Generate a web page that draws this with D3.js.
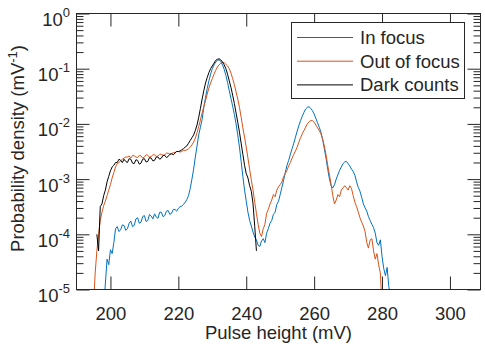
<!DOCTYPE html>
<html>
<head>
<meta charset="utf-8">
<script src="https://cdn.jsdelivr.net/npm/d3@7"></script>
<style>
  body { margin: 0; background: #fff; }
  text { font-family: "Liberation Sans", Arial, Helvetica, sans-serif; fill: #262626; }
</style>
</head>
<body>
<div id="chart"></div>
<script>
// pulse height bins (mV), 0.5 mV apart
const pulseHeight = [
  195, 195.5, 196, 196.5, 197, 197.5,
  198, 198.5, 199, 199.5, 200, 200.5, 201, 201.5,
  202, 202.5, 203, 203.5, 204, 204.5, 205, 205.5,
  206, 206.5, 207, 207.5, 208, 208.5, 209, 209.5,
  210, 210.5, 211, 211.5, 212, 212.5, 213, 213.5,
  214, 214.5, 215, 215.5, 216, 216.5, 217, 217.5,
  218, 218.5, 219, 219.5, 220, 220.5, 221, 221.5,
  222, 222.5, 223, 223.5, 224, 224.5, 225, 225.5,
  226, 226.5, 227, 227.5, 228, 228.5, 229, 229.5,
  230, 230.5, 231, 231.5, 232, 232.5, 233, 233.5,
  234, 234.5, 235, 235.5, 236, 236.5, 237, 237.5,
  238, 238.5, 239, 239.5, 240, 240.5, 241, 241.5,
  242, 242.5, 243, 243.5, 244, 244.5, 245, 245.5,
  246, 246.5, 247, 247.5, 248, 248.5, 249, 249.5,
  250, 250.5, 251, 251.5, 252, 252.5, 253, 253.5,
  254, 254.5, 255, 255.5, 256, 256.5, 257, 257.5,
  258, 258.5, 259, 259.5, 260, 260.5, 261, 261.5,
  262, 262.5, 263, 263.5, 264, 264.5, 265, 265.5,
  266, 266.5, 267, 267.5, 268, 268.5, 269, 269.5,
  270, 270.5, 271, 271.5, 272, 272.5, 273, 273.5,
  274, 274.5, 275, 275.5, 276, 276.5, 277, 277.5,
  278, 278.5, 279, 279.5, 280, 280.5, 281, 281.5,
  282, 282.5, 283
];

// log10 of probability density (mV^-1)
const inFocus = [
  null, null, null, null, null, null,
  -5.3, -4.9, -4.45, -4.55, -4.28, -4.35, -4.15, -3.9,
  -3.86, -3.95, -3.92, -3.83, -3.84, -3.93, -3.9, -3.8,
  -3.76, -3.86, -3.84, -3.72, -3.7, -3.8, -3.78, -3.68,
  -3.66, -3.77, -3.75, -3.64, -3.67, -3.72, -3.63, -3.69,
  -3.71, -3.6, -3.6, -3.68, -3.66, -3.58, -3.57, -3.64,
  -3.62, -3.55, -3.55, -3.58, -3.53, -3.5, -3.49, -3.46,
  -3.42, -3.37, -3.3, -3.17, -3.0, -2.82, -2.6, -2.4,
  -2.2, -2.06, -1.92, -1.7, -1.52, -1.36, -1.22, -1.1,
  -1.0, -0.93, -0.88, -0.85, -0.84, -0.87, -0.93, -1.01,
  -1.12, -1.25, -1.4, -1.54, -1.68, -1.83, -2.0, -2.2,
  -2.42, -2.68, -2.95, -3.2, -3.4, -3.6, -3.75, -3.85,
  -3.96, -4.05, -4.1, -4.2, -4.22, -4.12, -4.08, -4.15,
  -3.98, -3.9, -3.8, -3.75, -3.64, -3.6, -3.46, -3.4,
  -3.28, -3.15, -3.02, -2.88, -2.75, -2.66, -2.55, -2.45,
  -2.35, -2.24, -2.13, -2.03, -1.94, -1.86, -1.79, -1.73,
  -1.7, -1.69, -1.72, -1.76, -1.82, -1.9, -1.98, -2.06,
  -2.15, -2.28, -2.45, -2.62, -2.82, -3.0, -3.12, -3.16,
  -3.1, -3.0, -2.92, -2.84, -2.78, -2.72, -2.69, -2.68,
  -2.72, -2.76, -2.82, -2.86, -2.93, -3.05, -3.15, -3.22,
  -3.33, -3.45, -3.52, -3.58, -3.68, -3.75, -3.82, -3.88,
  -3.98, -4.15, -4.2, -4.1, -4.4, -4.62, -4.75, -4.6,
  -4.95, -5.1, -5.3
];

const outOfFocus = [
  -5.3, -4.7, -4.3, -4.0, -3.75, -3.6,
  -3.48, -3.4, -3.3, -3.2, -3.1, -2.98, -2.88, -2.78,
  -2.72, -2.7, -2.67, -2.64, -2.62, -2.6, -2.6, -2.58,
  -2.62, -2.57, -2.58, -2.6, -2.61, -2.57, -2.58, -2.62,
  -2.6, -2.56, -2.57, -2.6, -2.59, -2.56, -2.56, -2.59,
  -2.58, -2.55, -2.55, -2.57, -2.56, -2.53, -2.53, -2.55,
  -2.54, -2.52, -2.52, -2.5, -2.5, -2.51, -2.5, -2.48,
  -2.48, -2.47, -2.45, -2.42, -2.38, -2.33, -2.26, -2.16,
  -2.05, -1.93, -1.8, -1.69, -1.58, -1.46, -1.35, -1.26,
  -1.18, -1.1, -1.03, -0.97, -0.93, -0.9, -0.88, -0.89,
  -0.92, -0.95, -1.0, -1.08, -1.18, -1.29, -1.42, -1.55,
  -1.7, -1.88, -2.07, -2.24, -2.42, -2.62, -2.82, -3.02,
  -3.2, -3.42, -3.62, -3.82, -3.98, -4.04, -3.9, -3.82,
  -3.62, -3.55, -3.45, -3.38, -3.28, -3.32, -3.2, -3.14,
  -3.1, -3.05, -2.96, -2.9, -2.84, -2.76, -2.7, -2.62,
  -2.55, -2.49, -2.42, -2.33, -2.25, -2.18, -2.12, -2.06,
  -2.0, -1.96, -1.94, -1.94, -1.97, -2.02, -2.07, -2.12,
  -2.18, -2.28, -2.4, -2.56, -2.75, -2.92, -3.1, -3.3,
  -3.45, -3.38, -3.28, -3.32, -3.2, -3.16, -3.12, -3.15,
  -3.2, -3.12, -3.17, -3.3, -3.42, -3.5, -3.6, -3.7,
  -3.78, -3.85, -3.95, -4.15, -4.25, -4.1, -4.08, -4.3,
  -4.45, -4.35, -4.55, -4.7, -5.3, null, null, null,
  null, null, null
];

const darkCounts = [
  null, null, -4.0, -4.3, -3.5, -3.45,
  -3.3, -3.2, -3.05, -2.95, -2.85, -2.78, -2.75, -2.7,
  -2.7, -2.64, -2.66, -2.7, -2.64, -2.68, -2.7, -2.63,
  -2.64, -2.71, -2.72, -2.65, -2.66, -2.73, -2.71, -2.64,
  -2.63, -2.69, -2.68, -2.61, -2.62, -2.67, -2.66, -2.6,
  -2.6, -2.64, -2.62, -2.57, -2.57, -2.61, -2.59, -2.55,
  -2.54, -2.56, -2.53, -2.5, -2.5, -2.49, -2.47, -2.45,
  -2.42, -2.4, -2.35, -2.3, -2.25, -2.2, -2.12, -2.02,
  -1.88, -1.72, -1.55, -1.4, -1.26, -1.16, -1.07, -1.0,
  -0.95, -0.9, -0.85, -0.83, -0.82, -0.84, -0.88, -0.93,
  -1.0, -1.1, -1.22, -1.34, -1.48, -1.63, -1.8, -1.97,
  -2.15, -2.35, -2.55, -2.75, -2.9, -2.98, -3.12, -3.22,
  -3.45, -3.86, -4.3, null, null, null, null, null,
  null, null, null, null, null, null, null, null,
  null, null, null, null, null, null, null, null,
  null, null, null, null, null, null, null, null,
  null, null, null, null, null, null, null, null,
  null, null, null, null, null, null, null, null,
  null, null, null, null, null, null, null, null,
  null, null, null, null, null, null, null, null,
  null, null, null, null, null, null, null, null,
  null, null, null, null, null, null, null, null,
  null, null, null
];

const xTicks = [200, 220, 240, 260, 280, 300];
const yTickExponents = [-5, -4, -3, -2, -1, 0];

const series = [
  { name: "In focus", values: inFocus, color: "#0072BD" },
  { name: "Out of focus", values: outOfFocus, color: "#D95319" },
  { name: "Dark counts", values: darkCounts, color: "#000000" }
];

const width = 485;
const height = 351;
const plot = { left: 76.5, right: 480.5, top: 13.5, bottom: 289.5 };
const axisColor = "#262626";
const fontSize = "18.5px";

const svg = d3.select("#chart")
  .append("svg")
  .attr("width", width)
  .attr("height", height);

const x = d3.scaleLinear()
  .domain([190, 309])
  .range([plot.left, plot.right]);

const y = d3.scaleLog()
  .domain([1e-5, 1])
  .range([plot.bottom, plot.top]);

const majorY = yTickExponents.map(e => Math.pow(10, e));
const minorY = y.ticks().filter(v => !majorY.some(m => Math.abs(m - v) / m < 1e-9));

svg.append("clipPath")
  .attr("id", "plot-clip")
  .append("rect")
  .attr("x", plot.left)
  .attr("y", plot.top)
  .attr("width", plot.right - plot.left)
  .attr("height", plot.bottom - plot.top);

// data lines
const line = values => d3.line()
  .defined((d, i) => values[i] !== null)
  .x(d => x(d))
  .y((d, i) => y(Math.pow(10, values[i])));

series.forEach(s => {
  svg.append("path")
    .datum(pulseHeight)
    .attr("clip-path", "url(#plot-clip)")
    .attr("fill", "none")
    .attr("stroke", s.color)
    .attr("stroke-width", 1)
    .attr("stroke-linejoin", "round")
    .attr("d", line(s.values));
});

// axes, all ticks pointing inward
function styleAxis(g) {
  g.select(".domain").remove();
  g.selectAll(".tick line").attr("stroke", axisColor);
}

svg.append("g")
  .attr("transform", `translate(0, ${plot.bottom})`)
  .call(d3.axisBottom(x).tickValues(xTicks).tickSize(-13).tickPadding(17))
  .call(styleAxis)
  .selectAll("text")
  .style("font-size", fontSize)
  .attr("fill", axisColor);

svg.append("g")
  .attr("transform", `translate(0, ${plot.top})`)
  .call(d3.axisTop(x).tickValues(xTicks).tickSize(-13).tickFormat(""))
  .call(styleAxis);

svg.append("g")
  .attr("transform", `translate(${plot.left}, 0)`)
  .call(d3.axisLeft(y).tickValues(minorY).tickSize(-7).tickFormat(""))
  .call(styleAxis);

svg.append("g")
  .attr("transform", `translate(${plot.right}, 0)`)
  .call(d3.axisRight(y).tickValues(minorY).tickSize(-7).tickFormat(""))
  .call(styleAxis);

svg.append("g")
  .attr("transform", `translate(${plot.right}, 0)`)
  .call(d3.axisRight(y).tickValues(majorY).tickSize(-13).tickFormat(""))
  .call(styleAxis);

const yAxis = svg.append("g")
  .attr("transform", `translate(${plot.left}, 0)`)
  .call(d3.axisLeft(y).tickValues(majorY).tickSize(-13).tickFormat(""))
  .call(styleAxis);

yAxis.selectAll(".tick text").remove();
yAxis.selectAll(".tick").each(function(d) {
  const t = d3.select(this).append("text")
    .attr("x", -6.5)
    .attr("y", 12)
    .attr("text-anchor", "end")
    .style("font-size", fontSize);
  t.append("tspan").text("10");
  t.append("tspan")
    .attr("dy", -9)
    .style("font-size", "13px")
    .text(Math.round(Math.log10(d)));
});

// plot box
svg.append("rect")
  .attr("x", plot.left)
  .attr("y", plot.top)
  .attr("width", plot.right - plot.left)
  .attr("height", plot.bottom - plot.top)
  .attr("fill", "none")
  .attr("stroke", axisColor)
  .attr("stroke-width", 1);

// axis labels
svg.append("text")
  .attr("x", (plot.left + plot.right) / 2)
  .attr("y", 339)
  .attr("text-anchor", "middle")
  .style("font-size", fontSize)
  .text("Pulse height (mV)");

const yLabel = svg.append("text")
  .attr("transform", `translate(24, ${(plot.top + plot.bottom) / 2 - 3}) rotate(-90)`)
  .attr("text-anchor", "middle")
  .style("font-size", fontSize);
yLabel.append("tspan").text("Probability density (mV");
yLabel.append("tspan").attr("dy", -7).style("font-size", "13px").text("-1");
yLabel.append("tspan").attr("dy", 7).text(")");

// legend
const legend = svg.append("g");
legend.append("rect")
  .attr("x", 291.5)
  .attr("y", 22.5)
  .attr("width", 173)
  .attr("height", 76)
  .attr("fill", "#fff")
  .attr("stroke", axisColor);

const rows = legend.selectAll(".legend-row")
  .data(series)
  .join("g")
  .attr("class", "legend-row")
  .attr("transform", (d, i) => `translate(0, ${37.5 + i * 23.7})`);

rows.append("line")
  .attr("x1", 297)
  .attr("x2", 353)
  .attr("stroke", d => d.color)
  .attr("stroke-width", 1);

rows.append("text")
  .attr("x", 360)
  .attr("dy", "0.35em")
  .style("font-size", fontSize)
  .text(d => d.name);
</script>
</body>
</html>
